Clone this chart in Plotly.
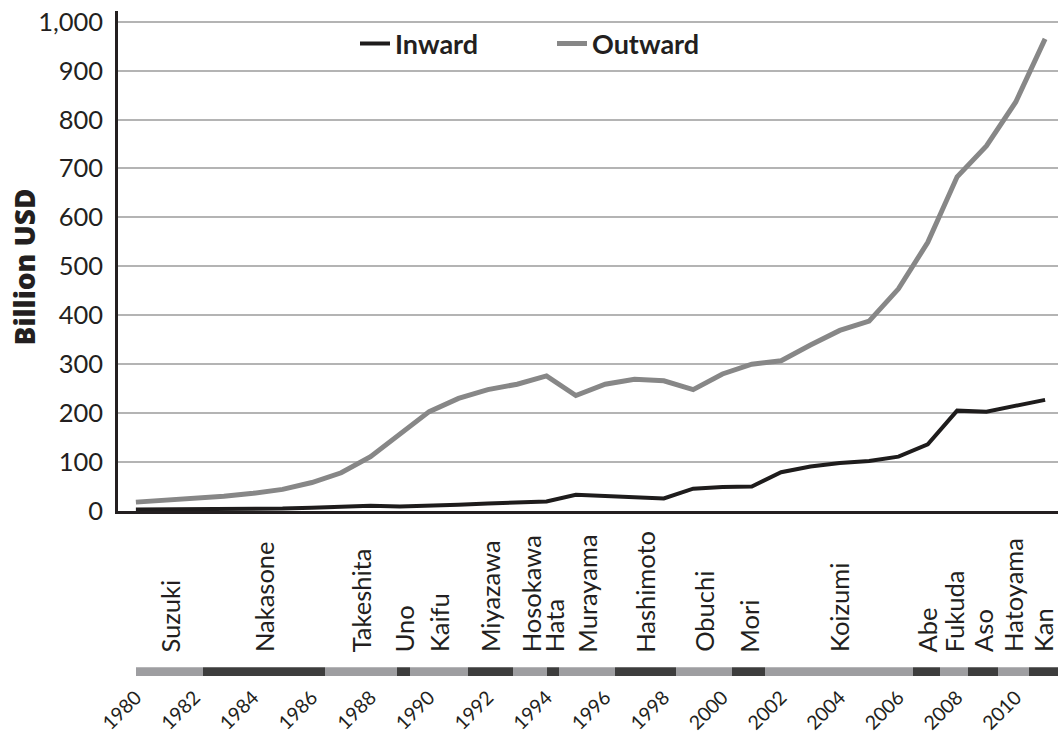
import plotly.graph_objects as go

# ---------------- data ----------------
years = list(range(1980, 2012))
inward = [3, 3, 3.5, 3.8, 4.3, 4.8, 6.5, 8.5, 10.4, 9.2, 10, 12.5, 15, 17, 19.5,
          33, 30, 28, 25.5, 45.5, 49, 50, 79, 91, 98, 102, 111, 136, 205, 203, 216, 227]
outward = [18, 22, 25, 30, 36, 44, 58, 78, 111, 157, 203, 230, 248, 259, 276,
           236, 259, 269, 266, 248, 280, 300, 307, 339, 369, 388, 454, 549, 683, 746, 836, 965]

pm_names = ["Suzuki", "Nakasone", "Takeshita", "Uno", "Kaifu", "Miyazawa", "Hosokawa",
            "Hata", "Murayama", "Hashimoto", "Obuchi", "Mori", "Koizumi", "Abe",
            "Fukuda", "Aso", "Hatoyama", "Kan"]
pm_start = [1980.0, 1982.3, 1986.45, 1988.9, 1989.35, 1991.33, 1992.87, 1994.03, 1994.44,
            1996.35, 1998.4, 2000.34, 2001.46, 2006.5, 2007.42, 2008.37, 2009.4, 2010.45]
pm_end = pm_start[1:] + [2011.45]

year_ticks = list(range(1980, 2011, 2))
y_ticks = list(range(0, 1001, 100))

# ---------------- layout helpers ----------------
W = 1058
H_REF = 736          # reference picture height used for placing things
H = 752              # figure height (the capture is scaled back to 736)
L = 118
def py(px):
    return 1 - px / H_REF

def pxx(px):
    return (px - L) / (W - L)

TXT = "#231f20"
FONT = "Lato"
GRAY_BAND = "#9e9ea1"
DARK_BAND = "#3d3d3d"

fig = go.Figure()
fig.add_trace(go.Scatter(x=years, y=inward, name="Inward", mode="lines",
                         line=dict(color="#1e1c1c", width=4)))
fig.add_trace(go.Scatter(x=years, y=outward, name="Outward", mode="lines",
                         line=dict(color="#878787", width=5)))

durations = [e - s for s, e in zip(pm_start, pm_end)]
band_colors = [GRAY_BAND if i % 2 == 0 else DARK_BAND for i in range(len(pm_names))]
fig.add_trace(go.Bar(y=[0] * len(pm_names), x=durations, base=pm_start, orientation="h",
                     width=1, marker=dict(color=band_colors, line=dict(width=0)),
                     xaxis="x2", yaxis="y2", showlegend=False, name="Prime Minister",
                     text=pm_names, hoverinfo="text", textposition="none"))

xr = [1979.39, 2011.44]
annotations = []
for name, s, e in zip(pm_names, pm_start, pm_end):
    annotations.append(dict(text=name, x=(s + e) / 2, xref="x2", y=py(652), yref="paper",
                            xanchor="center", yanchor="bottom", textangle=-90,
                            showarrow=False, font=dict(family=FONT, size=25.5, color=TXT)))
annotations.append(dict(text="Billion USD", x=pxx(23.5), xref="paper", y=py(263), yref="paper",
                        xanchor="center", yanchor="middle", textangle=-90, showarrow=False,
                        font=dict(family="Open Sans", size=28, weight=800, color=TXT)))

fig.update_layout(
    width=W, height=H, autosize=False,
    margin=dict(l=L, r=0, t=0, b=0),
    paper_bgcolor="white", plot_bgcolor="white",
    font=dict(family=FONT, color=TXT, size=25),
    xaxis=dict(domain=[0, 1], range=xr, showticklabels=False, showgrid=False,
               showline=True, linecolor=TXT, linewidth=3, zeroline=False, ticks=""),
    yaxis=dict(domain=[py(508), py(6)], range=[0, 1022], tickvals=y_ticks, tickformat=",",
               showgrid=True, gridcolor="#b4b4b4", gridwidth=1.5, showline=True,
               linecolor=TXT, linewidth=2.5, zeroline=False, ticks="",
               ticklabelstandoff=7, tickfont=dict(size=25.5)),
    xaxis2=dict(anchor="y2", domain=[0, 1], range=xr, tickvals=year_ticks, tickangle=-45,
                tickfont=dict(size=19.5), showline=False, showgrid=False, zeroline=False,
                ticks="", ticklabelstandoff=5),
    yaxis2=dict(domain=[py(674), py(665)], range=[-0.5, 0.5], visible=False),
    bargap=0,
    legend=dict(orientation="h", x=pxx(355), xanchor="left",
                y=py(39), yanchor="middle", bgcolor="rgba(0,0,0,0)",
                entrywidth=152, entrywidthmode="pixels",
                font=dict(size=27, weight="bold", color=TXT)),
    annotations=annotations,
    showlegend=True,
)

post = ("document.body.style.margin='0';"
        "document.body.style.overflow='hidden';"
        "document.documentElement.style.overflow='hidden';")

fig.write_html("out.html", config={"displayModeBar": False}, post_script=post)
